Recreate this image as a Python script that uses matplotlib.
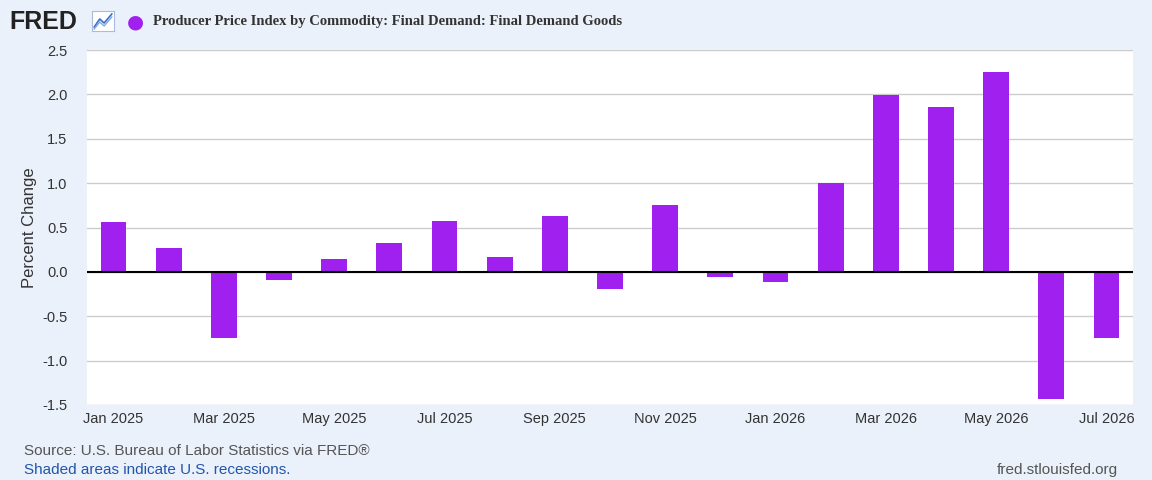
import matplotlib.pyplot as plt

plt.rcParams['font.family'] = ['Liberation Sans', 'DejaVu Sans']

# monthly percent change, Jan 2025 .. Jul 2026
months = ['Jan 2025', 'Feb 2025', 'Mar 2025', 'Apr 2025', 'May 2025', 'Jun 2025',
          'Jul 2025', 'Aug 2025', 'Sep 2025', 'Oct 2025', 'Nov 2025', 'Dec 2025',
          'Jan 2026', 'Feb 2026', 'Mar 2026', 'Apr 2026', 'May 2026', 'Jun 2026', 'Jul 2026']
values = [0.56, 0.27, -0.74, -0.09, 0.14, 0.32, 0.57, 0.17, 0.63, -0.19,
          0.75, -0.06, -0.11, 1.00, 1.99, 1.86, 2.25, -1.43, -0.74]
yticks = [-1.5, -1.0, -0.5, 0.0, 0.5, 1.0, 1.5, 2.0, 2.5]

bg = '#eaf1fa'
fig = plt.figure(figsize=(11.52, 4.8), dpi=100, facecolor=bg)
ax = fig.add_axes([87 / 1152, 1 - 405 / 480, 1046 / 1152, 355 / 480])

x = range(len(values))
ax.bar(x, values, width=0.47, color='#a020f0', zorder=3)
ax.axhline(0, color='black', lw=1.5, zorder=4)

ax.set_xlim(-0.48, len(values) - 0.52)
ax.set_ylim(-1.5, 2.5)
ax.set_yticks(yticks)
ax.set_yticklabels([f'{v:.1f}' for v in yticks], fontsize=10.5, color='#333333')
ax.set_xticks(list(x)[::2])
ax.set_xticklabels(months[::2], fontsize=10.5, color='#333333')
ax.grid(axis='y', color='#cccccc', lw=1, zorder=0)
ax.tick_params(axis='both', length=0, pad=5)
ax.tick_params(axis='y', pad=14)
for s in ax.spines.values():
    s.set_visible(False)
ax.set_ylabel('Percent Change', fontsize=12, color='#333333', labelpad=4)

fig.text(0.008, 0.955, 'FRED', fontsize=18, fontweight='bold', color='#222222', va='center')
# small chart icon next to the logo
icon = fig.add_axes([92 / 1152, 1 - 31 / 480, 22 / 1152, 20 / 480])
icon.set_facecolor('white')
icon.plot([0.1, 0.35, 0.55, 0.9], [0.2, 0.6, 0.4, 0.85], color='#3a6fc4', lw=1.2)
icon.plot([0.1, 0.35, 0.55, 0.9], [0.1, 0.45, 0.25, 0.7], color='#7fa7e0', lw=1)
icon.set_xlim(0, 1)
icon.set_ylim(0, 1)
icon.set_xticks([])
icon.set_yticks([])
for s in icon.spines.values():
    s.set_color('#aabbdd')
fig.text(0.110, 0.955, '●', fontsize=14, color='#a020f0', va='center', family='DejaVu Sans')
fig.text(0.133, 0.955, 'Producer Price Index by Commodity: Final Demand: Final Demand Goods',
         fontsize=10.5, fontweight='bold', family='Liberation Serif', color='#333333', va='center')
fig.text(0.021, 0.052, 'Source: U.S. Bureau of Labor Statistics via FRED®', fontsize=11, color='#555555')
fig.text(0.021, 0.012, 'Shaded areas indicate U.S. recessions.', fontsize=11, color='#2255aa')
fig.text(0.97, 0.012, 'fred.stlouisfed.org', fontsize=11, color='#555555', ha='right')

fig.savefig('out.png', dpi=100, facecolor=bg)
